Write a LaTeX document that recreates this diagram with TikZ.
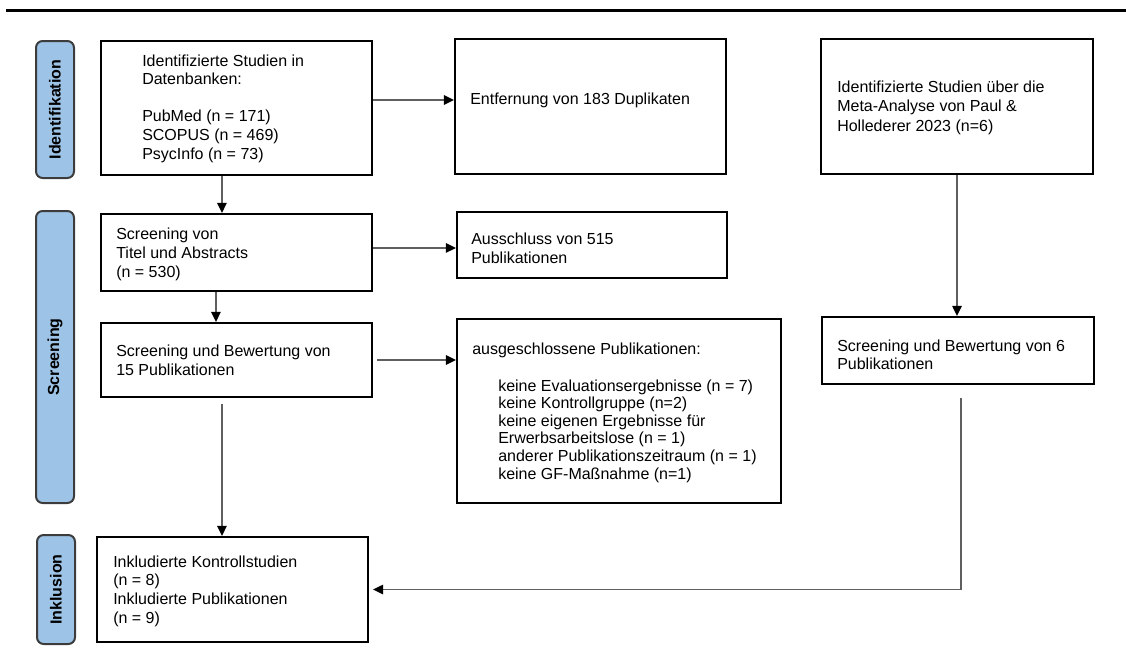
\documentclass[tikz,border=0pt]{standalone}
\usepackage{fontspec}
\setmainfont{Liberation Sans}
\usetikzlibrary{arrows.meta,fit}

\definecolor{phasefill}{RGB}{157,195,230}
\definecolor{phaseline}{RGB}{60,60,60}
\definecolor{linkgray}{RGB}{95,95,95}

\tikzset{
  box/.style={draw=black, line width=1.6pt, inner sep=0pt, fill=white},
  phase/.style={draw=phaseline, fill=phasefill, line width=1.5pt,
    rounded corners=5pt, inner sep=0pt},
  phasetext/.style={rotate=90, inner sep=0pt,
    font=\fontsize{12}{14}\selectfont\bfseries},
  % texts are placed by the baseline of their last line
  txt/.style={inner sep=0pt, align=left, anchor=base west,
    font=\fontsize{12}{13.9}\selectfont},
  link/.style={draw=linkgray, line width=1.3pt,
    -{Triangle[length=7.5pt,width=7pt,color=black]}},
}

\begin{document}
\begin{tikzpicture}[x=0.75pt, y=-0.75pt]
\useasboundingbox (0,0) rectangle (1126,664);

% heading rule
\draw[line width=2.4pt] (6,10.7) -- (1126,10.7);

% phase labels
\node[phase, fit={(36,41) (74,178)}] (pid) {};
\node[phasetext] (pidt) at (pid.center) {Identifikation};
\node[phase, fit={(36,211) (74,503)}] (pscr) {};
\node[phasetext] (pscrt) at (pscr.center) {Screening};
\node[phase, fit={(37,535) (75,644)}] (pinc) {};
\node[phasetext] (pinct) at (pinc.center) {Inklusion};

% boxes
\node[box, fit={(101,41) (372,175)}] (b1) {};
\node[box, fit={(455,39) (726,174)}] (b2) {};
\node[box, fit={(101,214) (372,291)}] (b3) {};
\node[box, fit={(457,212) (727,278)}] (b4) {};
\node[box, fit={(101,323) (372,397)}] (b5) {};
\node[box, fit={(457,319) (781,503)}] (b6) {};
\node[box, fit={(97,537) (368,642)}] (b7) {};
\node[box, fit={(821,39) (1093,174)}] (b8) {};
\node[box, fit={(822,317) (1094,384)}] (b9) {};

% box texts
\node[txt] (t1) at (142,159) {Identifizierte Studien in\\Datenbanken:\\[13.9pt]PubMed (n = 171)\\SCOPUS (n = 469)\\PsycInfo (n = 73)};
\node[txt] (t2) at (470,104) {Entfernung von 183 Duplikaten};
\node[txt] (t3) at (116,277) {Screening von\\Titel und Abstracts\\(n = 530)};
\node[txt] (t4) at (471,263) {Ausschluss von 515\\Publikationen};
\node[txt] (t5) at (116,375) {Screening und Bewertung von\\15 Publikationen};
\node[txt] (t6) at (472,354) {ausgeschlossene Publikationen:};
\node[txt, font=\fontsize{12}{13.2}\selectfont] (t6b) at (498,479) {keine Evaluationsergebnisse (n = 7)\\keine Kontrollgruppe (n=2)\\keine eigenen Ergebnisse für\\Erwerbsarbeitslose (n = 1)\\anderer Publikationszeitraum (n = 1)\\keine GF-Maßnahme (n=1)};
\node[txt, font=\fontsize{12}{14}\selectfont] (t7) at (113,623) {Inkludierte Kontrollstudien\\(n = 8)\\Inkludierte Publikationen\\(n = 9)};
\node[txt, font=\fontsize{12}{14.3}\selectfont] (t8) at (837,131) {Identifizierte Studien über die\\Meta-Analyse von Paul \&\\Hollederer 2023 (n=6)};
\node[txt, font=\fontsize{12}{13}\selectfont] (t9) at (837,369) {Screening und Bewertung von 6\\Publikationen};

% connectors
\draw[link] ([yshift=6pt]b1.east) -- ([yshift=6pt]b1.east -| b2.west);
\draw[link] ([xshift=-10.9pt]b1.south) -- ([xshift=-10.9pt]b1.south |- b3.north);
\draw[link] ([yshift=3.4pt]b3.east) -- ([yshift=3.4pt]b3.east -| b4.west);
\draw[link] ([xshift=-15.4pt]b3.south) -- ([xshift=-15.4pt]b3.south |- b5.north);
\draw[link, shorten <=3pt] (b5.east) -- (b5.east -| b6.west);
\draw[link, shorten <=4.5pt] ([xshift=-10.9pt]b5.south) -- ([xshift=-10.9pt]b5.south |- b7.north);
\draw[link] (b8.south) -- (b8.south |- b9.north);
\draw[link, shorten <=10pt, shorten >=3pt] ([xshift=2.2pt]b9.south) |- (b7.east);
\end{tikzpicture}
\end{document}
